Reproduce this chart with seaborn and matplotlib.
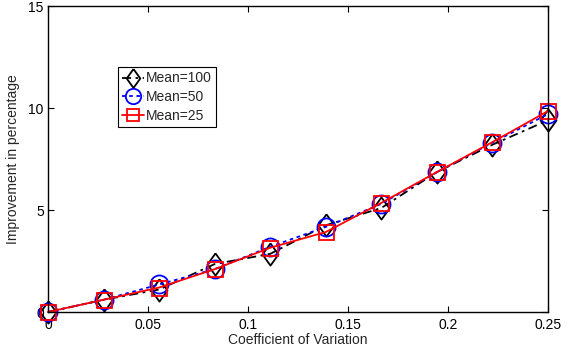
import numpy as np
import pandas as pd
import matplotlib
matplotlib.use("Agg")
import matplotlib.pyplot as plt
import seaborn as sns

# Coefficient of variation values (10 evenly spaced points from 0 to 0.25)
cv = [0.0, 0.02778, 0.05556, 0.08333, 0.11111, 0.13889, 0.16667, 0.19444, 0.22222, 0.25]

# Improvement (%) for each mean value
mean100 = [0.0, 0.6, 1.1, 2.35, 2.85, 4.25, 5.1, 6.86, 8.2, 9.4]
mean50 = [0.0, 0.6, 1.35, 2.1, 3.2, 4.17, 5.3, 6.85, 8.3, 9.7]
mean25 = [0.0, 0.6, 1.2, 2.1, 3.15, 3.92, 5.35, 6.86, 8.33, 9.85]

labels = ["Mean=100", "Mean=50", "Mean=25"]
x_ticks = [0, 0.05, 0.1, 0.15, 0.2, 0.25]
x_ticklabels = ["0", "0.05", "0.1", "0.15", "0.2", "0.25"]
y_ticks = [0, 5, 10, 15]
y_ticklabels = ["0", "5", "10", "15"]

sns.set_style("white")
plt.rcParams["font.family"] = ["Liberation Sans", "DejaVu Sans"]

fig = plt.figure(figsize=(5.69, 3.5), dpi=100)
ax = fig.add_axes([48 / 569, 38 / 350, 500 / 569, 306 / 350])

diamond = [(0, 1), (0.72, 0), (0, -1), (-0.72, 0), (0, 1)]

styles = [
    dict(y=mean100, color="black", linestyle=(0, (5, 2.5, 1.5, 2.5)),
         marker=diamond, markersize=16),
    dict(y=mean50, color="blue", linestyle=(0, (2, 2)),
         marker="o", markersize=13),
    dict(y=mean25, color="red", linestyle="-",
         marker="s", markersize=10.8),
]

for lab, st in zip(labels, styles):
    df = pd.DataFrame({"cv": cv, "imp": st["y"]})
    sns.lineplot(data=df, x="cv", y="imp", ax=ax, label=lab,
                 color=st["color"], linestyle=st["linestyle"],
                 marker=st["marker"], markersize=st["markersize"],
                 markerfacecolor="none", markeredgecolor=st["color"],
                 markeredgewidth=1.3, linewidth=1.3, clip_on=False)

ax.set_xlim(0, 0.25)
ax.set_ylim(0, 15)
ax.set_xticks(x_ticks)
ax.set_xticklabels(x_ticklabels)
ax.set_yticks(y_ticks)
ax.set_yticklabels(y_ticklabels)
ax.tick_params(direction="in", length=4, width=0.8, labelsize=10,
               top=True, right=True, bottom=True, left=True, colors="black")
ax.tick_params(axis="x", pad=4)
ax.tick_params(axis="y", pad=3)
for sp in ax.spines.values():
    sp.set_visible(True)
    sp.set_color("black")
    sp.set_linewidth(1.0)

ax.set_xlabel("Coefficient of Variation", fontsize=10, labelpad=1)
ax.set_ylabel("Improvement in percentage", fontsize=10, labelpad=6)

leg = ax.legend(loc="upper left", bbox_to_anchor=(0.14, 0.80),
                borderaxespad=0, frameon=True, fancybox=False,
                edgecolor="black", fontsize=10, handlelength=1.6,
                handletextpad=0.1, borderpad=0.3, labelspacing=0.35,
                markerscale=0.85)
leg.get_frame().set_linewidth(0.8)
leg.get_frame().set_alpha(1)

fig.savefig("out.png", dpi=100)
